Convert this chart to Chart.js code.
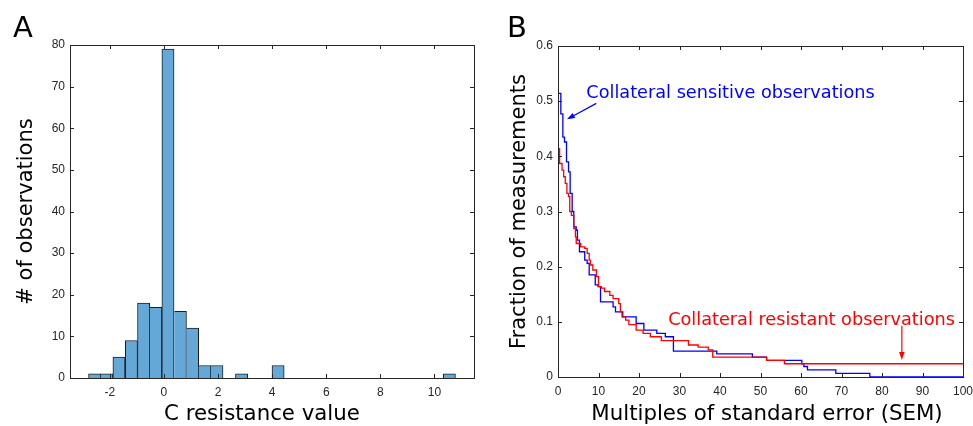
<!doctype html>
<html lang="en">
<head>
<meta charset="utf-8">
<title>C resistance</title>
<script src="https://cdn.jsdelivr.net/npm/chart.js@4/dist/chart.umd.min.js"></script>
<style>
body { margin: 0; background: #fff; }
#wrap { position: relative; width: 973px; height: 426px; overflow: hidden; }
.panel { position: absolute; top: 0; }
.letter { position: absolute; font: 29px "DejaVu Sans"; line-height: 29px; color: #000; }
.xtitle { position: absolute; width: 500px; text-align: center; font: 21.3px "DejaVu Sans"; line-height: 21px; color: #000; white-space: nowrap; }
</style>
</head>
<body>
<div id="wrap">
	<canvas id="histChart" class="panel" style="left:0" width="490" height="426"></canvas>
	<canvas id="curveChart" class="panel" style="left:490px" width="483" height="426"></canvas>
	<div class="letter" style="left:13px;top:13px">A</div>
	<div class="letter" style="left:507px;top:13px">B</div>
	<div class="xtitle" style="left:12px;top:402px">C resistance value</div>
	<div class="xtitle" style="left:517px;top:402px">Multiples of standard error (SEM)</div>
</div>
<script type="text/javascript">
// panel A: histogram
var binCenters = [-2.56, -2.11, -1.66, -1.20, -0.75, -0.30, 0.15, 0.61, 1.06, 1.51,
	1.96, 2.41, 2.87, 3.32, 3.77, 4.22, 4.67, 5.13, 5.58, 6.03,
	6.48, 6.93, 7.39, 7.84, 8.29, 8.74, 9.19, 9.65, 10.10, 10.55];
var binCounts = [1, 1, 5, 9, 18, 17, 79, 16, 12, 3,
	3, 0, 1, 0, 0, 3, 0, 0, 0, 0,
	0, 0, 0, 0, 0, 0, 0, 0, 0, 1];
var histXTicks = [-2, 0, 2, 4, 6, 8, 10];
var histYTicks = [0, 10, 20, 30, 40, 50, 60, 70, 80];

// panel B: step curves (x where the curve steps, new y value)
var sensX = [0, 0.7, 1.2, 1.6, 2.1, 2.6, 3.0, 3.5, 3.9, 4.5, 4.8, 5.3, 6.6, 7.2, 7.7, 9.2, 9.9, 10.5,
	13.6, 14.2, 16.0, 19.3, 21.2, 24.4, 26.5, 28.5, 39.2, 48.0, 51.5, 60.2, 60.7, 61.6, 68.6, 77.0, 100];
var sensY = [0.514, 0.477, 0.435, 0.426, 0.390, 0.372, 0.333, 0.300, 0.272, 0.266, 0.248, 0.227, 0.212, 0.206, 0.185, 0.167, 0.164, 0.136,
	0.127, 0.118, 0.109, 0.097, 0.085, 0.079, 0.073, 0.047, 0.042, 0.036, 0.030, 0.024, 0.019, 0.013, 0.0067, 0, 0];
var resX = [0, 0.4, 1.0, 1.4, 1.8, 2.2, 2.6, 2.9, 3.3, 3.9, 4.3, 4.5, 5.6, 6.6, 7.2, 7.7, 8.0, 8.6, 9.5, 10.0,
	10.7, 11.5, 12.8, 13.6, 15.0, 15.4, 15.8, 16.7, 17.5, 19.3, 21.0, 22.8, 25.5, 32.2, 34.6, 37.1, 38.2, 51.5, 55.9, 100];
var resY = [0.414, 0.387, 0.375, 0.363, 0.351, 0.333, 0.327, 0.300, 0.293, 0.269, 0.254, 0.242, 0.236, 0.233, 0.224, 0.212, 0.203, 0.194, 0.182, 0.164,
	0.161, 0.155, 0.148, 0.142, 0.133, 0.118, 0.109, 0.103, 0.095, 0.085, 0.079, 0.073, 0.066, 0.058, 0.054, 0.049, 0.036, 0.030, 0.024, 0.024];
var curveXTicks = [0, 10, 20, 30, 40, 50, 60, 70, 80, 90, 100];
var curveYTicks = [0, 0.1, 0.2, 0.3, 0.4, 0.5, 0.6];

var sensLabel = 'Collateral sensitive observations';
var resLabel = 'Collateral resistant observations';

var tickFont = {family: 'Liberation Sans', size: 12};
var tickColor = '#262626';

// box around the plot area with inward tick marks on all four sides
var boxTicks = {
	id: 'boxTicks',
	afterDatasetsDraw: function(chart) {
		var a = chart.chartArea, ctx = chart.ctx, len = 4;
		var xs = chart.scales.x, ys = chart.scales.y;
		ctx.save();
		ctx.strokeStyle = '#262626';
		ctx.lineWidth = 1;
		ctx.beginPath();
		xs.ticks.forEach(function(t) {
			var px = Math.round(xs.getPixelForValue(t.value)) + 0.5;
			ctx.moveTo(px, a.bottom); ctx.lineTo(px, a.bottom - len);
			ctx.moveTo(px, a.top); ctx.lineTo(px, a.top + len);
		});
		ys.ticks.forEach(function(t) {
			var py = Math.round(ys.getPixelForValue(t.value)) + 0.5;
			ctx.moveTo(a.left, py); ctx.lineTo(a.left + len, py);
			ctx.moveTo(a.right, py); ctx.lineTo(a.right - len, py);
		});
		ctx.stroke();
		ctx.strokeRect(Math.round(a.left) + 0.5, Math.round(a.top) + 0.5,
			Math.round(a.right - a.left), Math.round(a.bottom - a.top));
		ctx.restore();
	}
};

function axisOpts(min, max, ticks, size, horizontal, fmt) {
	var o = {
		type: 'linear', min: min, max: max, offset: false,
		grid: {display: false, drawTicks: false},
		border: {display: false},
		afterBuildTicks: function(s) { s.ticks = ticks.map(function(v) { return {value: v}; }); },
		ticks: {font: tickFont, color: tickColor, padding: horizontal ? 7 : 5, autoSkip: false, maxRotation: 0,
			callback: fmt}
	};
	o.afterFit = function(s) {
		if (horizontal) s.height = size; else s.width = size;
		s.paddingLeft = 0; s.paddingRight = 0; s.paddingTop = 0; s.paddingBottom = 0;
	};
	return o;
}

// ----- panel A -----
var histY = axisOpts(0, 80, histYTicks, 70, false, function(v) { return String(v); });
histY.title = {display: true, text: '# of observations', font: {family: 'DejaVu Sans', size: 21}, color: '#000', padding: {top: 14, bottom: 0}};

new Chart(document.getElementById('histChart'), {
	type: 'bar',
	data: {
		datasets: [{
			data: binCenters.map(function(c, i) { return {x: c, y: binCounts[i]}; }),
			backgroundColor: '#64a8d8',
			borderColor: '#1f1f1f',
			borderWidth: function(ctx) {
				var i = ctx.dataIndex;
				var left = (i === 0 || binCounts[i - 1] < binCounts[i]) ? 1 : 0;
				return {top: 1, right: 1, left: left, bottom: 0};
			},
			borderSkipped: false,
			barPercentage: 1,
			categoryPercentage: 1,
			grouped: false
		}]
	},
	options: {
		responsive: false,
		animation: false,
		layout: {padding: {top: 45, right: 16, left: 0, bottom: 0}},
		plugins: {legend: {display: false}, tooltip: {enabled: false}},
		scales: {
			x: axisOpts(-3.47, 11.46, histXTicks, 48, true, function(v) { return String(v); }),
			y: histY
		}
	},
	plugins: [boxTicks]
});

// ----- panel B -----
var sensText = [7.0, 0.506];
var sensArrow = [9.46, 0.496, 2.22, 0.467];
var resText = [27.2, 0.094];
var resArrow = [84.9, 0.093, 84.9, 0.031];

function drawArrow(ctx, xs, ys, a, color) {
	var x1 = xs.getPixelForValue(a[0]), y1 = ys.getPixelForValue(a[1]);
	var x2 = xs.getPixelForValue(a[2]), y2 = ys.getPixelForValue(a[3]);
	var ang = Math.atan2(y2 - y1, x2 - x1), hl = 8, hw = 2.8;
	ctx.strokeStyle = color; ctx.fillStyle = color; ctx.lineWidth = 1.2;
	ctx.beginPath();
	ctx.moveTo(x1, y1);
	ctx.lineTo(x2 - hl * Math.cos(ang), y2 - hl * Math.sin(ang));
	ctx.stroke();
	ctx.beginPath();
	ctx.moveTo(x2, y2);
	ctx.lineTo(x2 - hl * Math.cos(ang) + hw * Math.sin(ang), y2 - hl * Math.sin(ang) - hw * Math.cos(ang));
	ctx.lineTo(x2 - hl * Math.cos(ang) - hw * Math.sin(ang), y2 - hl * Math.sin(ang) + hw * Math.cos(ang));
	ctx.closePath();
	ctx.fill();
}

var notes = {
	id: 'notes',
	afterDatasetsDraw: function(chart) {
		var xs = chart.scales.x, ys = chart.scales.y, ctx = chart.ctx;
		ctx.save();
		ctx.font = '17.7px "DejaVu Sans"';
		ctx.textBaseline = 'alphabetic';
		ctx.textAlign = 'left';
		ctx.fillStyle = '#0000ff';
		ctx.fillText(sensLabel, xs.getPixelForValue(sensText[0]), ys.getPixelForValue(sensText[1]));
		ctx.fillStyle = '#ff0000';
		ctx.fillText(resLabel, xs.getPixelForValue(resText[0]), ys.getPixelForValue(resText[1]));
		drawArrow(ctx, xs, ys, sensArrow, '#0000ff');
		drawArrow(ctx, xs, ys, resArrow, '#ff0000');
		ctx.restore();
	}
};

var curveY = axisOpts(0, 0.6, curveYTicks, 68, false, function(v) { return String(+v.toFixed(1)); });
curveY.title = {display: true, text: 'Fraction of measurements', font: {family: 'DejaVu Sans', size: 21}, color: '#000', padding: {top: 17, bottom: 0}};

new Chart(document.getElementById('curveChart'), {
	type: 'scatter',
	data: {
		datasets: [{
			data: resX.map(function(x, i) { return {x: x, y: resY[i]}; }),
			showLine: true, stepped: true,
			borderColor: '#ff0000', borderWidth: 1.3,
			pointRadius: 0
		}, {
			data: sensX.map(function(x, i) { return {x: x, y: sensY[i]}; }),
			showLine: true, stepped: true,
			borderColor: '#0000ff', borderWidth: 1.3,
			pointRadius: 0
		}]
	},
	options: {
		responsive: false,
		animation: false,
		layout: {padding: {top: 46, right: 10, left: 0, bottom: 0}},
		plugins: {legend: {display: false}, tooltip: {enabled: false}},
		scales: {
			x: axisOpts(0, 100, curveXTicks, 49, true, function(v) { return String(v); }),
			y: curveY
		}
	},
	plugins: [boxTicks, notes]
});
</script>
</body>
</html>
